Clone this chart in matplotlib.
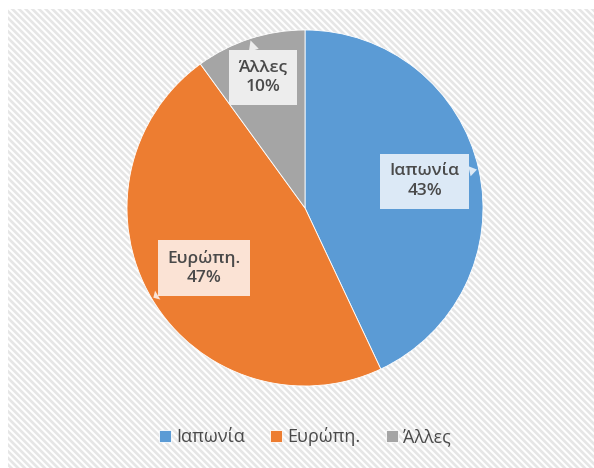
import numpy as np
import matplotlib.pyplot as plt
from matplotlib.patches import Rectangle

plt.rcParams["font.family"] = ["Open Sans", "DejaVu Sans"]
plt.rcParams["hatch.linewidth"] = 1.5

# data
labels = ["Ιαπωνία", "Ευρώπη.", "Άλλες"]
shares = [43, 47, 10]
colors = ["#5B9BD5", "#ED7D31", "#A5A5A5"]
box_colors = ["#DCE9F6", "#FBE3D5", "#EDEDED"]
label_r = [0.69, 0.66, 0.77]

W, H = 594, 468
fig = plt.figure(figsize=(W / 100, H / 100), dpi=100)
fig.patch.set_facecolor("white")

# hatched chart background
bg = Rectangle((8 / W, 0), 1 - 8 / W, 1 - 9 / H, transform=fig.transFigure,
               facecolor="#E6E6E6", edgecolor="white", linewidth=0,
               hatch="\\" * 5, zorder=-10)
fig.patches.append(bg)

cx, cy, R = 305, 208, 178
ax = fig.add_axes([(cx - R) / W, (H - cy - R) / H, 2 * R / W, 2 * R / H])
ax.set_aspect("equal")
ax.axis("off")

wedges, _ = ax.pie(shares, colors=colors, startangle=90, counterclock=False,
                   radius=1, wedgeprops=dict(edgecolor="white", linewidth=0.6))
ax.set_xlim(-1, 1)
ax.set_ylim(-1, 1)

for w, lab, s, bc, r in zip(wedges, labels, shares, box_colors, label_r):
    mid = np.deg2rad((w.theta1 + w.theta2) / 2)
    tip = (0.99 * np.cos(mid), 0.99 * np.sin(mid))
    pos = (r * np.cos(mid), r * np.sin(mid))
    ax.annotate(f"{lab}\n{s}%", xy=tip, xytext=pos, ha="center", va="center",
                fontsize=12.5, fontweight="semibold", color="#4a4a4a",
                linespacing=1.3,
                bbox=dict(boxstyle="square,pad=0.55", fc=bc, ec="none"),
                arrowprops=dict(arrowstyle="wedge,tail_width=0.6", fc=bc,
                                ec="none", shrinkA=0, shrinkB=0))

fig.legend(wedges, labels, loc="center", bbox_to_anchor=(305 / W, 1 - 437 / H),
           ncol=3, frameon=False, fontsize=13, handlelength=0.65,
           handleheight=0.65, handletextpad=0.3, columnspacing=1.4,
           labelcolor="#4a4a4a")

fig.savefig("out.png", dpi=100)
